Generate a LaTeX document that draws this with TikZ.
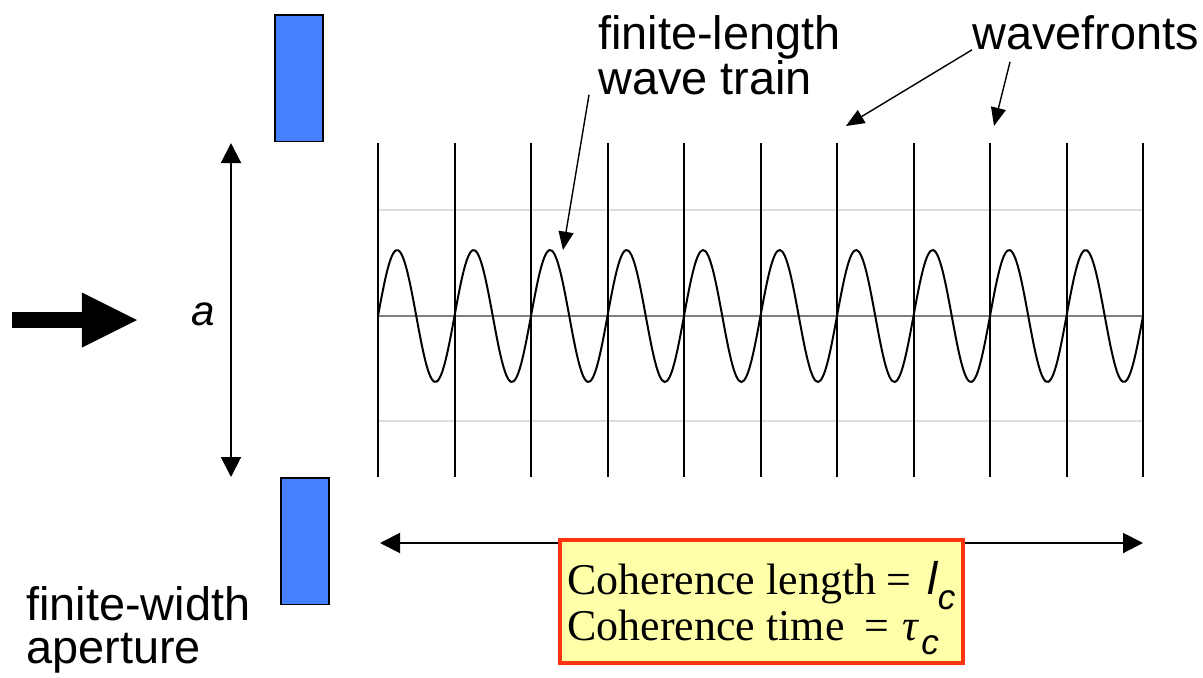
\documentclass[tikz,border=0pt]{standalone}
\usepackage{fontspec}
\setmainfont{Liberation Serif}
\setsansfont{Liberation Sans}
\usetikzlibrary{arrows.meta, positioning}
\definecolor{slitBlue}{HTML}{4480FF}
\definecolor{boxRed}{HTML}{FF3310}
\definecolor{boxYellow}{HTML}{FFFFAA}
\definecolor{axisGray}{HTML}{808080}
\definecolor{guideGray}{HTML}{DDDDDD}
\newcommand{\subc}[1]{{\sffamily\itshape\fontsize{30}{30}\selectfont\raisebox{#1}[0pt][0pt]{c}}}

\begin{document}
\begin{tikzpicture}[
    x=0.03cm, y=-0.03cm,
    >={Triangle[length=0.6cm, width=0.6cm]},
    slit/.style={draw=black, line width=1.5pt, fill=slitBlue, minimum width=1.45cm, minimum height=3.8cm, anchor=north west, inner sep=0pt},
    caption/.style={font=\sffamily\fontsize{40}{37}\selectfont, align=left, inner sep=0pt},
    front/.style={draw=black, line width=1.7pt},
    guide/.style={draw=guideGray, line width=1.2pt},
    measure/.style={<->, draw=black, line width=1.7pt},
    pointer/.style={-{Triangle[length=0.55cm, width=0.45cm]}, draw=black, line width=1.2pt},
    cohbox/.style={draw=boxRed, line width=3.4pt, fill=boxYellow, align=left, anchor=north west,
        minimum width=12.09cm, minimum height=3.69cm, font=\fontsize{37.5}{39}\selectfont}
]
    \useasboundingbox (0,0) rectangle (1203,678);

    % aperture
    \node[slit] (topSlit) at (274,14) {};
    \node[slit] (botSlit) at (280,477) {};
    \node[caption, anchor=north west] (aperture) at (26,586) {finite-width\\aperture};

    % incoming beam
    \coordinate (beamStart) at (12,320);
    \coordinate (beamEnd) at (137,320);
    \draw[line width=0.48cm, -{Triangle[length=1.65cm, width=1.65cm, line width=0pt]}] (beamStart) -- (beamEnd);

    % width a
    \coordinate (apTop) at (231,143);
    \coordinate (apBot) at (231,477);
    \draw[measure] (apTop) -- (apBot);
    \node[font=\sffamily\itshape\fontsize{36}{36}\selectfont] (width) at (203,314) {a};

    % wave train
    \draw[guide] (378,210) -- (1143,210);
    \draw[guide] (378,421) -- (1143,421);
    \draw[draw=axisGray, line width=1.5pt] (378,316) -- (1143,316);
    \foreach \k in {0,...,10}
        \draw[front] ({378+76.5*\k},143) -- ({378+76.5*\k},477);
    \draw[line width=1.7pt] plot[domain=378:1143, samples=300, smooth] (\x, {316-66*sin((\x-378)/76.5*360)});

    % labels
    \node[caption, anchor=north west] (train) at (598,15) {finite-length\\wave train};
    \node[caption, anchor=north west] (fronts) at (972,15) {wavefronts};
    \coordinate (trainTip) at (563,250);
    \coordinate (frontTipA) at (846,126);
    \coordinate (frontTipB) at (994,126);
    \draw[pointer] ([xshift=-0.27cm]train.south west) -- (trainTip);
    \draw[pointer] (fronts.south west) -- (frontTipA);
    \draw[pointer] ([xshift=1.14cm, yshift=-0.36cm]fronts.south west) -- (frontTipB);

    % coherence length
    \coordinate (lenLeft) at (380,543);
    \coordinate (lenRight) at (1143,543);
    \draw[measure] (lenLeft) -- (lenRight);
    \node[cohbox] (coh) at (558,538) {Coherence length\hspace{0.3cm}=\hspace{0.5cm}{\sffamily\itshape\fontsize{39}{39}\selectfont l}\subc{-0.45cm}\\
        Coherence time\hspace{0.6cm}=\hspace{0.4cm}\textit{τ}\hspace{0.05cm}\subc{-0.42cm}};
\end{tikzpicture}
\end{document}
